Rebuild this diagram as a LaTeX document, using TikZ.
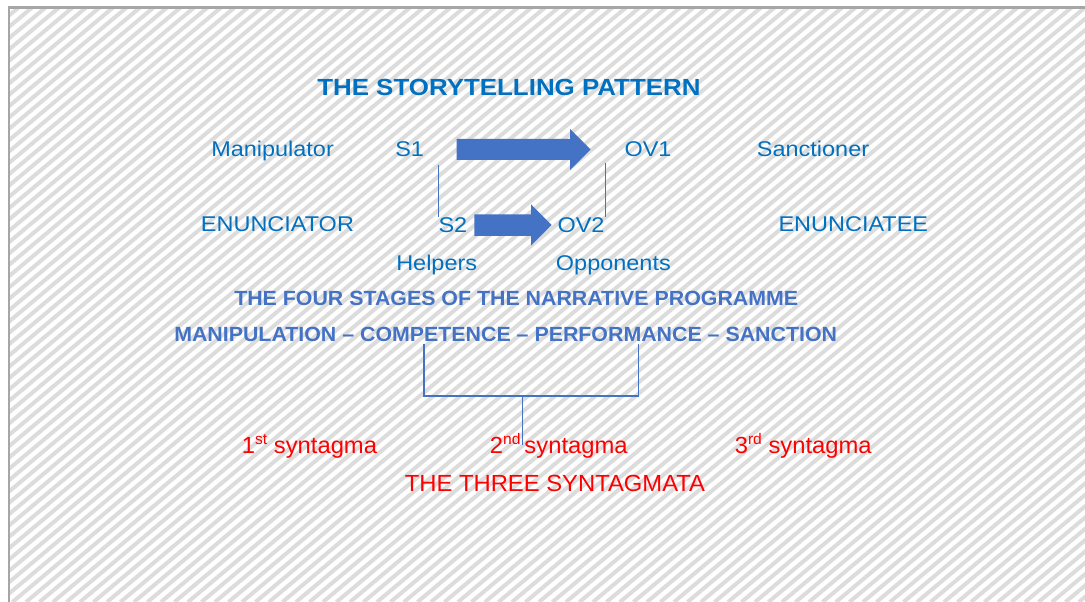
\documentclass[tikz,border=0pt]{standalone}
\usepackage{fontspec}
\setmainfont[FakeStretch=1.1]{Liberation Sans}
\newfontfamily\titlefont[FakeStretch=1.11]{Liberation Sans}
\newfontfamily\stagefont[FakeStretch=1.04]{Liberation Sans}
\newfontfamily\redfont[FakeStretch=1.02]{Liberation Sans}
\usepackage{tikz}
\usetikzlibrary{positioning}
\definecolor{titleblue}{HTML}{0070C0}
\definecolor{arrowblue}{HTML}{4472C4}
\definecolor{hatchgray}{HTML}{DCDCDC}
\definecolor{framegray}{HTML}{A6A6A6}
\newcommand\sps[1]{\raisebox{0.75ex}{\fontsize{11.5}{13}\selectfont #1}}
\tikzset{
  lbl/.style={anchor=base west, inner sep=0pt, text=titleblue, font=\fontsize{16}{19}\selectfont},
  ttl/.style={anchor=base west, inner sep=0pt, text=titleblue, font=\fontsize{17.5}{21}\selectfont\titlefont\bfseries},
  stage/.style={anchor=base west, inner sep=0pt, text=arrowblue, font=\fontsize{15.4}{18}\selectfont\stagefont\bfseries},
  synt/.style={anchor=base west, inner sep=0pt, text=red, font=\fontsize{17.5}{21}\selectfont\redfont},
  thin/.style={arrowblue, line width=0.8pt}
}

\begin{document}
\begin{tikzpicture}[x=0.75pt, y=-0.75pt]
          \useasboundingbox (0,0) rectangle (1085,602);
          \fill[white] (0,0) rectangle (1085,602);
          % hatched page
          \begin{scope}
            \clip (9,7.5) rectangle (1085,602);
            \foreach \a in {-730,-716.5,...,1090}
              \draw[hatchgray, line width=3pt] (\a,602) -- ++(717,-602);
          \end{scope}
          \draw[framegray, line width=1.6pt] (9,610) -- (9,7.5) -- (1095,7.5);

          \node[ttl] (title) at (317,95.4) {THE STORYTELLING PATTERN};

          \node[lbl] (manip) at (211,156.7) {Manipulator};
          \node[lbl] (sone) at (395,156.7) {S1};
          \node[lbl] (ovone) at (624.3,156.7) {OV1};
          \node[lbl] (sanct) at (756.7,156.7) {Sanctioner};

          \node[lbl] (enuncr) at (200.7,232) {ENUNCIATOR};
          \node[lbl] (stwo) at (438.3,232.5) {S2};
          \node[lbl] (ovtwo) at (557.3,232.5) {OV2};
          \node[lbl] (enunce) at (778.3,232) {ENUNCIATEE};

          \node[lbl] (helpers) at (396,270.5) {Helpers};
          \node[lbl] (opp) at (555.7,270.5) {Opponents};

          % block arrows
          \fill[arrowblue] (456.7,139) -- (570,139) -- (570,129) -- (590.7,149.5)
            -- (570,170) -- (570,160) -- (456.7,160) -- cycle;
          \fill[arrowblue] (474.3,214.3) -- (531,214.3) -- (531,204.3) -- (551.7,225)
            -- (531,245.7) -- (531,236) -- (474.3,236) -- cycle;

          % thin links between the two rows
          \coordinate (linkl) at (438.3,165);
          \coordinate (linkr) at (605.7,162.7);
          \draw[thin] (linkl) -- (linkl |- stwo.north);
          \draw[thin] (linkr) -- (linkr |- ovtwo.north);

          \node[stage] (stages) at (234,305.7) {THE FOUR STAGES OF THE NARRATIVE PROGRAMME};
          \node[stage] (phases) at (174,341) {MANIPULATION – COMPETENCE – PERFORMANCE – SANCTION};

          \node[synt] (synone) at (241.6,453.3) {1\sps{st} syntagma};
          \node[synt] (syntwo) at (489.7,453.3) {2\sps{nd}\,syntagma};
          \node[synt] (synthree) at (734.5,453.3) {3\sps{rd} syntagma};
          \node[synt] (three) at (404.6,491.7) {THE THREE SYNTAGMATA};

          % bracket from the stages down to the syntagmata
          \coordinate (brl) at (424,343.5);
          \coordinate (brr) at (638.6,343.5);
          \coordinate (brm) at (522.5,396);
          \coordinate (brend) at (522.5,445);
          \draw[thin] (brl) -- (brl |- brm) -- (brr |- brm) -- (brr);
          \draw[thin] (brm) -- (brend);
        \end{tikzpicture}
\end{document}
